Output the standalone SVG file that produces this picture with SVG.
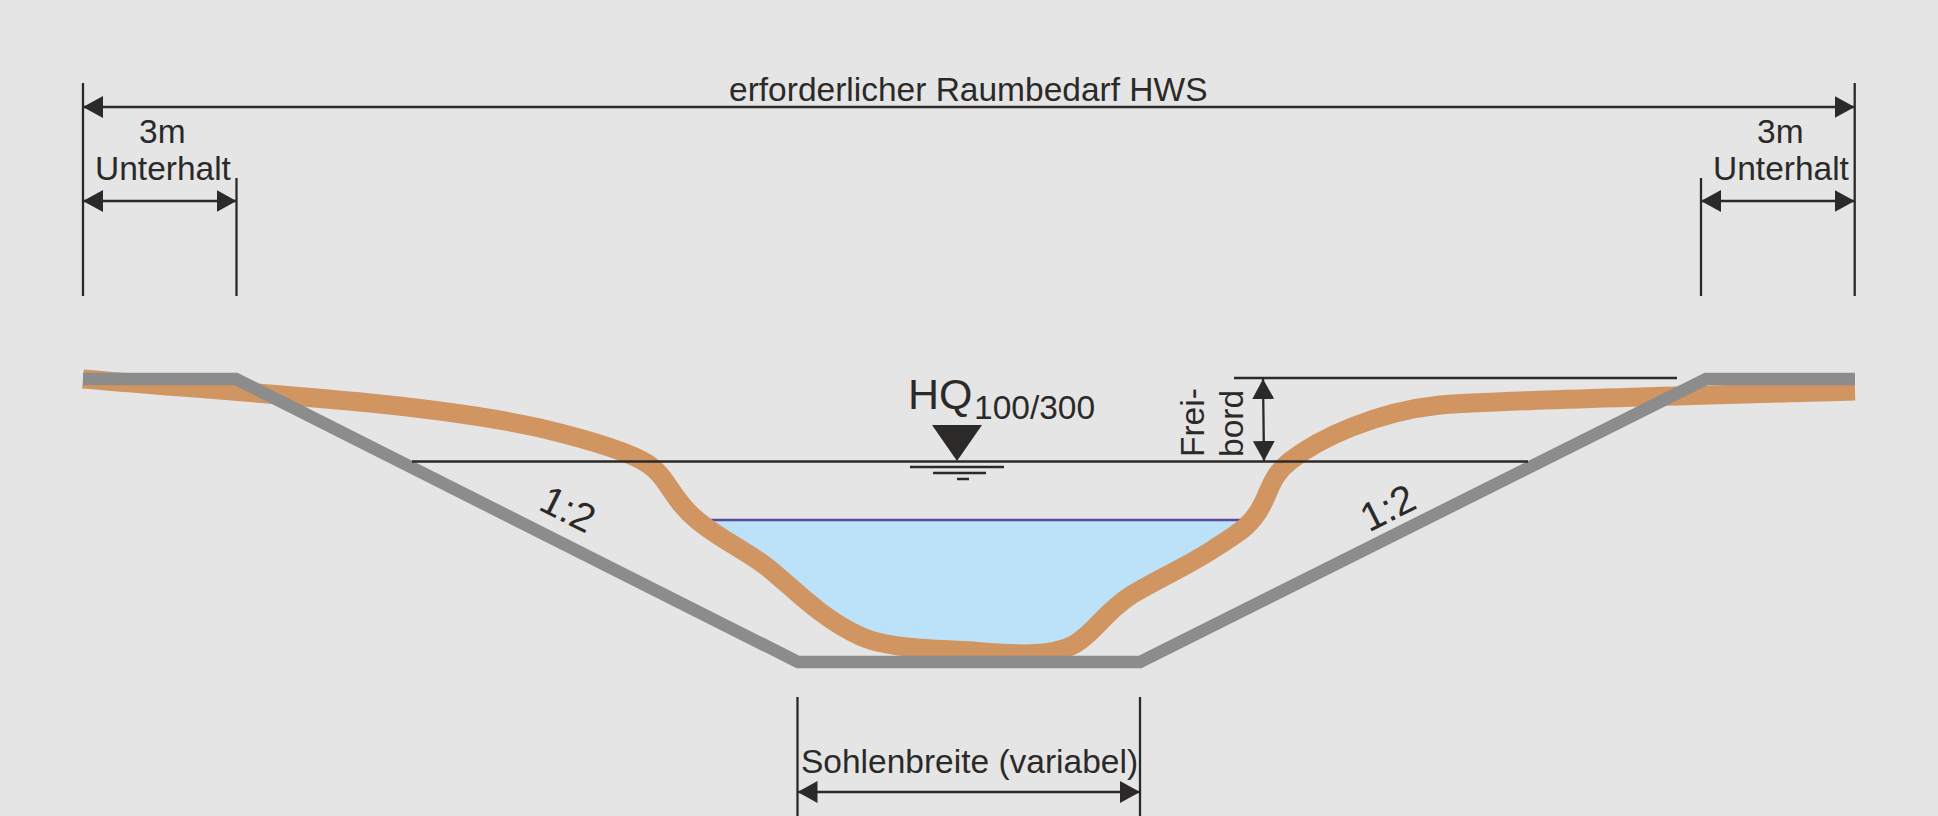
<svg xmlns="http://www.w3.org/2000/svg" width="1938" height="816" viewBox="0 0 1938 816">
<style>
text{font-family:"Liberation Sans",Arial,sans-serif;font-size:33.5px;fill:#2b2a29}
.l{stroke:#2b2a29;stroke-width:2.3;fill:none}
.h{fill:#2b2a29}
</style>
<defs>
<marker id="a" viewBox="0 0 20 22" refX="20" refY="11" markerWidth="20" markerHeight="22" markerUnits="userSpaceOnUse" orient="auto-start-reverse"><path d="M0 0L20 11L0 22Z" fill="#2b2a29"/></marker>
</defs>
<rect width="1938" height="816" fill="#e5e5e5"/>
<g id="water">
<path d="M710 520H1241L1215 548L1180 568L1160 578L1130 596L1093 630L1067 648L1027 653L973 650L923 648L880 645L847 632L807 603L767 567L727 543Z" fill="#bbe2f9"/>
<path d="M710 520H1241" stroke="#5b4a9b" stroke-width="2.4" fill="none"/>
</g>
<g id="ground">
<path d="M83 379C150 385 304 396 380 404C456 412 500 419 540 428C590 440 630 452 648 464C668 477 672 500 697 520C718 538 745 550 767 567C790 585 820 618 860 636C885 648 930 649 973 651C1010 654 1050 658 1075 644C1095 632 1105 612 1130 596C1150 583 1190 565 1215 548C1240 532 1252 525 1262 505C1270 490 1272 475 1290 461C1320 438 1375 412 1440 405C1500 400 1680 396 1855 391" fill="none" stroke="#d19562" stroke-width="19"/>
</g>
<g id="levee">
<path d="M83 379H236L798 662H1140L1706 379H1855" fill="none" stroke="#8c8c8c" stroke-width="12.500"/>
</g>
<g id="connectors">
<path class="l" d="M83 83V296M236.500 178V296M1854.700 83V296M1701 178V296M797.500 697V816M1140 697V816"/>
<path class="l" d="M83 107H1854.700" marker-start="url(#a)" marker-end="url(#a)"/>
<path class="l" d="M83 201H236.500" marker-start="url(#a)" marker-end="url(#a)"/>
<path class="l" d="M1701 201H1854.700" marker-start="url(#a)" marker-end="url(#a)"/>
<path class="l" d="M797.500 792H1140" marker-start="url(#a)" marker-end="url(#a)"/>
<path class="l" d="M1263 379L1264 461" marker-start="url(#a)" marker-end="url(#a)"/>
<path class="l" d="M1234 378H1677M412 461.500H1528"/>
</g>
<g id="level-symbol">
<path class="h" d="M932 425H982L957 461Z"/>
<path class="l" d="M910 467H1004M933 473H986M957 479H969"/>
</g>
<g id="labels">
<text x="729" y="101">erforderlicher Raumbedarf HWS</text>
<text x="139" y="143">3m</text>
<text x="95" y="180">Unterhalt</text>
<text x="1757" y="143">3m</text>
<text x="1713" y="180">Unterhalt</text>
<text x="908" y="409" style="font-size:43px">HQ</text>
<text x="974" y="419">100/300</text>
<text transform="translate(1204 457) rotate(-90)">Frei-</text>
<text transform="translate(1243 457) rotate(-90)">bord</text>
<text transform="translate(537 509) rotate(26.500)" style="font-size:40px">1:2</text>
<text transform="translate(1369 532.500) rotate(-26.500)" style="font-size:40px">1:2</text>
<text x="801" y="773">Sohlenbreite (variabel)</text>
</g>
</svg>
